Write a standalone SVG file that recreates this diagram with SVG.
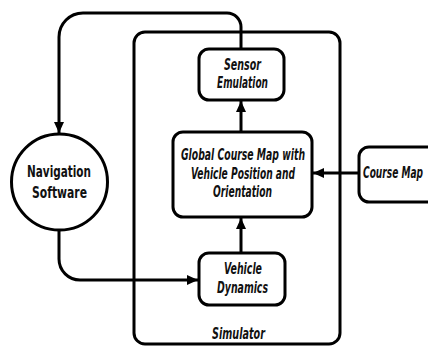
<svg xmlns="http://www.w3.org/2000/svg" width="428" height="346" viewBox="0 0 428 346">
<defs>
<style>
.box{fill:#fff;stroke:#000;stroke-width:3}
.c{fill:none;stroke:#000;stroke-width:3}
.t{font-family:"DejaVu Sans Condensed","DejaVu Sans",sans-serif;font-stretch:condensed;font-weight:bold;font-style:italic;font-size:16px;fill:#111;text-anchor:middle}
.n{font-family:"DejaVu Sans Condensed","DejaVu Sans",sans-serif;font-stretch:condensed;font-weight:bold;font-size:16.5px;fill:#111;text-anchor:middle}
</style>
<marker id="ah" markerUnits="userSpaceOnUse" markerWidth="12" markerHeight="12" viewBox="0 0 12 12" refX="11" refY="6" orient="auto">
<path d="M0,1 L11,6 L0,11 Z" fill="#000"/>
</marker>
</defs>
<rect width="428" height="346" fill="#fff"/>
<g id="simulator">
<rect class="box" x="134" y="32" width="206" height="312" rx="11"/>
<text class="t" x="238.5" y="339" textLength="53" lengthAdjust="spacingAndGlyphs">Simulator</text>
</g>
<g id="connectors">
<path class="c" d="M241,49 V27 A14,14 0 0 0 227,13 H83 A24,24 0 0 0 59,37 V133" marker-end="url(#ah)"/>
<path class="c" d="M59,230 V259 A21,21 0 0 0 80,280 H198" marker-end="url(#ah)"/>
<path class="c" d="M241,253 V218" marker-end="url(#ah)"/>
<path class="c" d="M241,132 V101" marker-end="url(#ah)"/>
<path class="c" d="M359,173 H313" marker-end="url(#ah)"/>
</g>
<g id="sensor">
<rect class="box" x="199" y="49" width="85" height="51" rx="10"/>
<text class="t" x="242.5" y="70" textLength="37" lengthAdjust="spacingAndGlyphs">Sensor</text>
<text class="t" x="242.5" y="88" textLength="51" lengthAdjust="spacingAndGlyphs">Emulation</text>
</g>
<g id="global">
<rect class="box" x="173" y="132" width="139" height="85" rx="10"/>
<text class="t" x="243" y="160" textLength="124" lengthAdjust="spacingAndGlyphs">Global Course Map with</text>
<text class="t" x="243" y="179" textLength="104" lengthAdjust="spacingAndGlyphs">Vehicle Position and</text>
<text class="t" x="242.5" y="197" textLength="59" lengthAdjust="spacingAndGlyphs">Orientation</text>
</g>
<g id="vehicle">
<rect class="box" x="199" y="253" width="86" height="52" rx="10"/>
<text class="t" x="243" y="274" textLength="38" lengthAdjust="spacingAndGlyphs">Vehicle</text>
<text class="t" x="242.5" y="293" textLength="51" lengthAdjust="spacingAndGlyphs">Dynamics</text>
</g>
<g id="coursemap">
<rect class="box" x="359" y="147" width="90" height="55" rx="10"/>
<text class="t" transform="translate(393,178) scale(1,1.3)" x="0" y="0" style="font-size:12.3px" textLength="60" lengthAdjust="spacingAndGlyphs">Course Map</text>
</g>
<g id="navigation">
<circle class="box" cx="59.5" cy="182" r="48"/>
<text class="n" x="59" y="177" textLength="64" lengthAdjust="spacingAndGlyphs">Navigation</text>
<text class="n" x="59.5" y="198" textLength="55" lengthAdjust="spacingAndGlyphs">Software</text>
</g>
</svg>
